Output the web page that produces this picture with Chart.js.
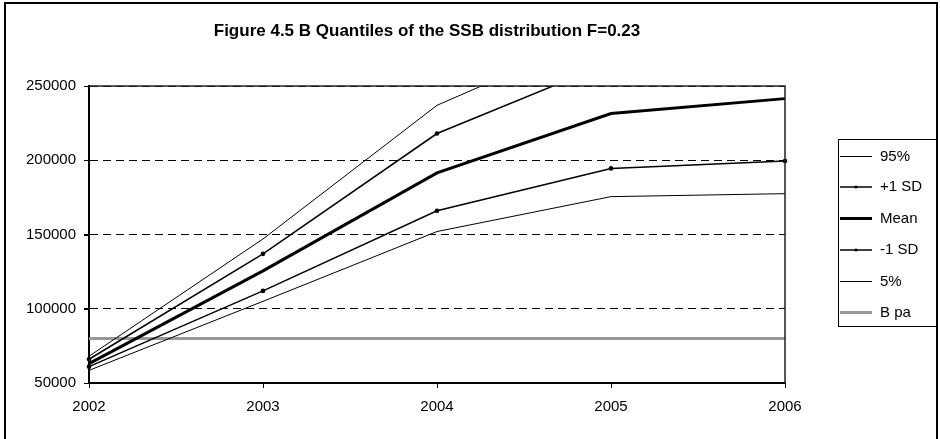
<!DOCTYPE html>
<html lang="en">
<head>
    <meta charset="UTF-8">
    <title>SSB quantiles F=0.23</title>
    <script src="https://cdn.jsdelivr.net/npm/chart.js"></script>
    <style>
        body { margin: 0; background: #fff; }
        #wrap { width: 940px; height: 439px; position: relative; }
    </style>
</head>
<body>
    <div id="wrap"><canvas id="ssbChart"></canvas></div>

    <script>
        // SSB projection quantiles by year
        var years = ["2002", "2003", "2004", "2005", "2006"];
        var q95 = [68000, 147000, 237000, 288000, 304000];
        var plusSD = [66000, 137000, 218000, 266000, 280000];
        var meanSSB = [63000, 125500, 191500, 231500, 241500];
        var minusSD = [61000, 112000, 166000, 194500, 199500];
        var q05 = [58500, 105000, 152000, 175500, 177500];
        var bpa = [80000, 80000, 80000, 80000, 80000];
        var seriesNames = ["95%", "+1 SD", "Mean", "-1 SD", "5%", "B pa"];

        var FONT = "'Liberation Sans', Arial, sans-serif";

        // frame, title, axis tick marks and boxed legend on the right
        var decor = {
            id: "decor",
            beforeDraw: function (chart) {
                var ctx = chart.ctx;
                ctx.save();
                ctx.fillStyle = "#fff";
                ctx.fillRect(0, 0, chart.width, chart.height);
                ctx.strokeStyle = "#000";
                ctx.lineWidth = 2;
                ctx.strokeRect(5, 3, 932, 440);
                ctx.restore();
            },
            afterDraw: function (chart) {
                var ctx = chart.ctx;
                var a = chart.chartArea;
                var xs = chart.scales.x, ys = chart.scales.y;
                ctx.save();
                // plot area outline (top and right)
                ctx.strokeStyle = "#222";
                ctx.lineWidth = 1.5;
                ctx.beginPath();
                ctx.moveTo(a.left, a.top);
                ctx.lineTo(a.right, a.top);
                ctx.lineTo(a.right, a.bottom);
                ctx.stroke();

                // outside tick marks
                ctx.strokeStyle = "#000";
                ctx.lineWidth = 1;
                ctx.beginPath();
                ys.ticks.forEach(function (t) {
                    var py = Math.round(ys.getPixelForValue(t.value)) + 0.5;
                    ctx.moveTo(a.left - 5, py);
                    ctx.lineTo(a.left, py);
                });
                years.forEach(function (yr, i) {
                    var px = Math.round(xs.getPixelForValue(i)) + 0.5;
                    ctx.moveTo(px, a.bottom);
                    ctx.lineTo(px, a.bottom + 5);
                });
                ctx.stroke();

                ctx.fillStyle = "#000";
                ctx.font = "bold 17px " + FONT;
                ctx.textAlign = "center";
                ctx.textBaseline = "middle";
                ctx.fillText("Figure 4.5 B Quantiles of the SSB distribution F=0.23", 427, 31);

                ctx.lineWidth = 1;
                ctx.strokeStyle = "#000";
                ctx.strokeRect(838.5, 139.5, 99, 187);
                ctx.font = "15px " + FONT;
                ctx.textAlign = "left";
                chart.data.datasets.forEach(function (ds, i) {
                    var y = Math.round(156 + i * 31.2) + (ds.borderWidth % 2 === 1 ? 0.5 : 0);
                    ctx.strokeStyle = ds.borderColor;
                    ctx.lineWidth = ds.borderWidth;
                    ctx.beginPath();
                    ctx.moveTo(840, y);
                    ctx.lineTo(872, y);
                    ctx.stroke();
                    if (ds.pointRadius > 0) {
                        ctx.fillStyle = ds.borderColor;
                        ctx.beginPath();
                        ctx.arc(856, y, ds.pointRadius, 0, Math.PI * 2);
                        ctx.fill();
                    }
                    ctx.fillStyle = "#000";
                    ctx.fillText(ds.label, 880, y);
                });
                ctx.restore();
            }
        };

        function series(name, data, width, color, dots) {
            return {
                label: name,
                data: data,
                borderColor: color,
                backgroundColor: color,
                borderWidth: width,
                pointRadius: dots ? 1.6 : 0,
                pointHoverRadius: 0,
                tension: 0,
                fill: false
            };
        }

        new Chart(document.getElementById("ssbChart"), {
            type: "line",
            data: {
                labels: years,
                datasets: [
                    series(seriesNames[0], q95, 1, "#000", false),
                    series(seriesNames[1], plusSD, 1.5, "#000", true),
                    series(seriesNames[2], meanSSB, 3, "#000", false),
                    series(seriesNames[3], minusSD, 1.5, "#000", true),
                    series(seriesNames[4], q05, 1, "#000", false),
                    series(seriesNames[5], bpa, 3, "#999", false)
                ]
            },
            options: {
                responsive: true,
                maintainAspectRatio: false,
                animation: false,
                events: [],
                layout: { padding: { left: 0, top: 86, right: 155, bottom: 0 } },
                plugins: {
                    legend: { display: false },
                    title: { display: false },
                    tooltip: { enabled: false }
                },
                scales: {
                    x: {
                        offset: false,
                        afterFit: function (s) { s.height = 56; },
                        grid: {
                            drawOnChartArea: false,
                            drawTicks: true,
                            tickLength: 5,
                            color: "#000"
                        },
                        border: { color: "#000", width: 2 },
                        ticks: {
                            color: "#000",
                            padding: 10,
                            maxRotation: 0,
                            font: { family: FONT, size: 15 }
                        }
                    },
                    y: {
                        min: 50000,
                        max: 250000,
                        afterFit: function (s) { s.width = 89; },
                        grid: {
                            color: "#000",
                            lineWidth: 1,
                            tickLength: 5,
                            tickColor: "#000"
                        },
                        border: { color: "#000", width: 2, dash: [8, 5] },
                        ticks: {
                            stepSize: 50000,
                            color: "#000",
                            padding: 8,
                            font: { family: FONT, size: 15 },
                            callback: function (v) { return String(v); }
                        }
                    }
                }
            },
            plugins: [decor]
        });
    </script>
</body>
</html>
